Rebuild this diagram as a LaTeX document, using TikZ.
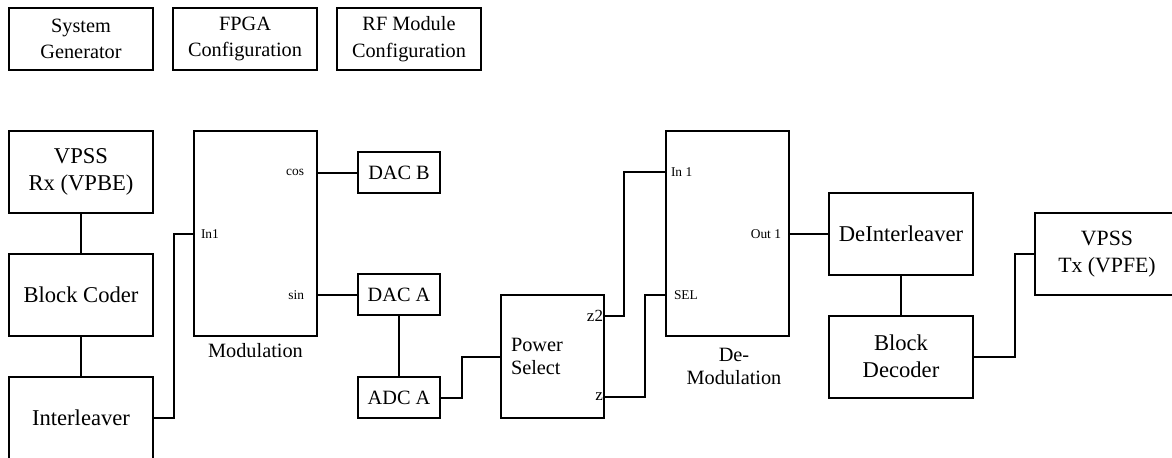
\documentclass[tikz,border=0pt]{standalone}
\usepackage{fontspec}
\setmainfont{Liberation Serif}
\usetikzlibrary{positioning}

\begin{document}
\begin{tikzpicture}[x=0.5pt, y=-0.5pt, line width=1pt,
  blk/.style={draw, inner sep=0pt, align=center, font=\fontsize{11.3}{13.5}\selectfont},
  cfg/.style={blk, minimum width=72pt, minimum height=31pt, font=\fontsize{10.15}{13.2}\selectfont},
  big/.style={blk, minimum width=72pt, minimum height=41pt},
  small/.style={blk, minimum width=41pt, minimum height=20.5pt, font=\fontsize{10.15}{12}\selectfont},
  sub/.style={draw, inner sep=0pt, minimum width=61.5pt, minimum height=102.5pt},
  port/.style={inner sep=0pt, font=\fontsize{6.7}{7.5}\selectfont},
  lbl/.style={inner sep=0pt, align=center, font=\fontsize{10.15}{11.5}\selectfont}]
  \useasboundingbox (0,0) rectangle (1172,457);
  \clip (0,0) rectangle (1172,457);

  \node[cfg] (sysgen) at (81,39) {System\\Generator};
  \node[cfg] (fpgacfg) at (245,39) {FPGA\\Configuration};
  \node[cfg] (rfcfg) at (409,39) {RF Module\\Configuration};

  \node[big] (vpssrx) at (81,172) {VPSS\\Rx (VPBE)};
  \node[big] (blkcoder) at (81,295) {Block Coder};
  \node[big] (interl) at (81,418) {Interleaver};

  \node[sub] (modul) at (255.5,233.5) {};
  \node[lbl] (modlbl) at (255.5,351) {Modulation};
  \node[port, anchor=west] (pin) at (200,234) {In1};
  \node[port, anchor=east] (pcos) at (305,172) {cos};
  \node[port, anchor=east] (psin) at (305,295) {sin};

  \node[small] (dacb) at (399,172.5) {DAC B};
  \node[small] (daca) at (399,294.5) {DAC A};
  \node[small] (adca) at (399,397.5) {ADC A};

  \node[draw, inner xsep=5pt, inner ysep=0pt, text width=41.5pt, align=left,
        minimum height=61.5pt, font=\fontsize{10.15}{11.5}\selectfont]
        (pwrsel) at (552.5,356.5) {Power\\Select};
  \node[port, anchor=east, font=\fontsize{8.5}{9}\selectfont] (pz2) at (604,316) {z2};
  \node[port, anchor=east, font=\fontsize{8.5}{9}\selectfont] (pz) at (604,397) {z};

  \node[sub] (demod) at (727.5,233.5) {};
  \node[lbl] (dmlbl) at (734,366.5) {De-\\Modulation};
  \node[port, anchor=west] (pdin) at (670,172) {In 1};
  \node[port, anchor=west] (pdsel) at (673,295) {SEL};
  \node[port, anchor=east] (pdout) at (782,234) {Out 1};

  \node[big] (deinterl) at (901,233.5) {DeInterleaver};
  \node[big] (blkdecoder) at (901,356.5) {Block\\Decoder};
  \node[big, font=\fontsize{10.9}{13.2}\selectfont] (vpsstx) at (1107,254) {VPSS\\Tx (VPFE)};

  \draw (vpssrx) -- (blkcoder);
  \draw (blkcoder) -- (interl);
  \draw (interl.east) -- ++(20,0) |- (modul.west);
  \draw (dacb.west -| modul.east) -- (dacb.west);
  \draw (daca.west -| modul.east) -- (daca.west);
  \draw (daca) -- (adca);
  \draw (adca.east) -- ++(21,0) |- (pwrsel.west);
  \draw (pz2.east) -- ++(20,0) |- (demod.west |- pdin);
  \draw (pz.east) -- ++(41,0) |- (demod.west |- pdsel);
  \draw (deinterl.west -| demod.east) -- (deinterl.west);
  \draw (deinterl) -- (blkdecoder);
  \draw (blkdecoder.east) -- ++(41,0) |- (vpsstx.west);
\end{tikzpicture}
\end{document}
